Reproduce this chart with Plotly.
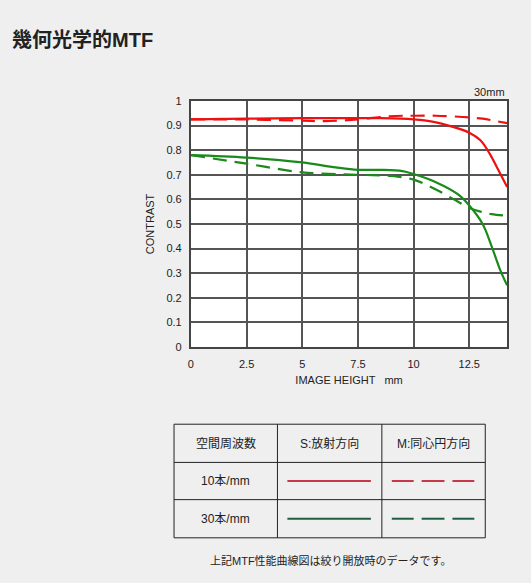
import plotly.graph_objects as go

# MTF data (image height in mm)
x_s10 = [0, 2.5, 5, 7.5, 8.5, 10, 10.9, 11.65, 12.5, 13.0, 13.44, 13.8, 14.2]
y_s10 = [0.925, 0.928, 0.93, 0.93, 0.93, 0.925, 0.915, 0.898, 0.871, 0.84, 0.782, 0.72, 0.65]

x_m10 = [0, 2.5, 5, 6, 7.5, 8.5, 9.5, 10, 11, 12.2, 13.1, 13.6, 14.2]
y_m10 = [0.925, 0.925, 0.92, 0.918, 0.925, 0.935, 0.94, 0.94, 0.94, 0.935, 0.928, 0.92, 0.91]

x_s30 = [0, 2.5, 5, 6.5, 7.5, 8.5, 9.5, 10, 11, 12, 12.5, 13.1, 13.5, 13.9, 14.2]
y_s30 = [0.78, 0.77, 0.75, 0.73, 0.72, 0.72, 0.715, 0.703, 0.67, 0.62, 0.575, 0.5, 0.41, 0.31, 0.25]

x_m30 = [0, 2.5, 5, 7.5, 9, 10, 11, 12, 12.5, 13, 13.5, 14.2]
y_m30 = [0.78, 0.745, 0.71, 0.70, 0.695, 0.68, 0.64, 0.59, 0.565, 0.55, 0.54, 0.533]

x_ticks = [0, 2.5, 5, 7.5, 10, 12.5]
y_ticks = [0, 0.1, 0.2, 0.3, 0.4, 0.5, 0.6, 0.7, 0.8, 0.9, 1]

table_header = ['空間周波数', 'S:放射方向', 'M:同心円方向']
table_rows = ['10本/mm', '30本/mm']

RED = '#ee1111'
GREEN = '#1a8a1a'
DASH = '14px,8px'
FONT = 'Arial, Liberation Sans, Noto Sans CJK JP, sans-serif'
W, H = 531, 583


def px(x):
    return x / W


def py(y):
    return 1 - y / H


fig = go.Figure()
fig.add_trace(go.Scatter(x=x_s10, y=y_s10, mode='lines', line=dict(color=RED, width=2.2, shape='spline')))
fig.add_trace(go.Scatter(x=x_m10, y=y_m10, mode='lines',
                         line=dict(color=RED, width=2.2, dash=DASH, shape='spline')))
fig.add_trace(go.Scatter(x=x_s30, y=y_s30, mode='lines', line=dict(color=GREEN, width=2.2, shape='spline')))
fig.add_trace(go.Scatter(x=x_m30, y=y_m30, mode='lines',
                         line=dict(color=GREEN, width=2.2, dash=DASH, shape='spline')))

shapes = []
annotations = [
    dict(text='<b>幾何光学的MTF</b>', x=px(7), y=py(35), xref='paper', yref='paper',
         xanchor='left', yanchor='middle', showarrow=False, font=dict(size=20, color='#222')),
    dict(text='30mm', x=px(507), y=py(88), xref='paper', yref='paper',
         xanchor='right', yanchor='middle', showarrow=False, font=dict(size=11, color='#222')),
    dict(text='上記MTF性能曲線図は絞り開放時のデータです。', x=px(330), y=py(566), xref='paper', yref='paper',
         xanchor='center', yanchor='middle', showarrow=False, font=dict(size=11, color='#222')),
]

# legend table
col_x = [172, 276, 381, 485]
row_y = [427, 466, 504, 543]
for cx in col_x:
    shapes.append(dict(type='line', xref='paper', yref='paper', x0=px(cx), x1=px(cx),
                       y0=py(row_y[0]), y1=py(row_y[-1]), line=dict(color='#222', width=1)))
for ry in row_y:
    shapes.append(dict(type='line', xref='paper', yref='paper', x0=px(col_x[0]), x1=px(col_x[-1]),
                       y0=py(ry), y1=py(ry), line=dict(color='#222', width=1)))
for i, label in enumerate(table_header):
    annotations.append(dict(text=label, x=px((col_x[i] + col_x[i + 1]) / 2), y=py((row_y[0] + row_y[1]) / 2),
                            xref='paper', yref='paper', xanchor='center', yanchor='middle',
                            showarrow=False, font=dict(size=12, color='#222')))
row_colors = ['#c8374a', '#1e5e40']
for j, label in enumerate(table_rows):
    yc = py((row_y[j + 1] + row_y[j + 2]) / 2)
    annotations.append(dict(text=label, x=px((col_x[0] + col_x[1]) / 2), y=yc,
                            xref='paper', yref='paper', xanchor='center', yanchor='middle',
                            showarrow=False, font=dict(size=12, color='#222')))
    shapes.append(dict(type='line', xref='paper', yref='paper', x0=px(286), x1=px(370), y0=yc, y1=yc,
                       line=dict(color=row_colors[j], width=2)))
    for seg in [(391, 413), (421, 444), (452, 474)]:
        shapes.append(dict(type='line', xref='paper', yref='paper', x0=px(seg[0]), x1=px(seg[1]),
                           y0=yc, y1=yc, line=dict(color=row_colors[j], width=2)))

fig.update_layout(
    width=W, height=H,
    margin=dict(l=0, r=0, t=0, b=0),
    paper_bgcolor='#efefef',
    plot_bgcolor='white',
    showlegend=False,
    font=dict(family=FONT, size=11, color='#222'),
    xaxis=dict(domain=[px(189), px(507)], range=[0, 14.2], tickvals=x_ticks,
               ticktext=['0', '2.5', '5', '7.5', '10', '12.5'],
               showgrid=True, gridcolor='#555', gridwidth=1.5, zeroline=False,
               showline=True, linecolor='#444', linewidth=2, mirror=True, ticks='',
               ticklabelstandoff=6,
               title=dict(text='IMAGE HEIGHT   mm', font=dict(size=11), standoff=7)),
    yaxis=dict(domain=[py(348), py(97)], range=[0, 1], tickvals=y_ticks,
               ticktext=['0', '0.1', '0.2', '0.3', '0.4', '0.5', '0.6', '0.7', '0.8', '0.9', '1'],
               showgrid=True, gridcolor='#555', gridwidth=1.5, zeroline=False,
               showline=True, linecolor='#444', linewidth=2, mirror=True, ticks='',
               ticklabelstandoff=5,
               title=dict(text='CONTRAST', font=dict(size=11), standoff=10)),
    shapes=shapes,
    annotations=annotations,
)

# drop the browser's default body margin so the figure fills the window
fig.write_html("out.html", config={'displayModeBar': False},
               post_script="document.body.style.margin='0';document.body.style.overflow='hidden';")
